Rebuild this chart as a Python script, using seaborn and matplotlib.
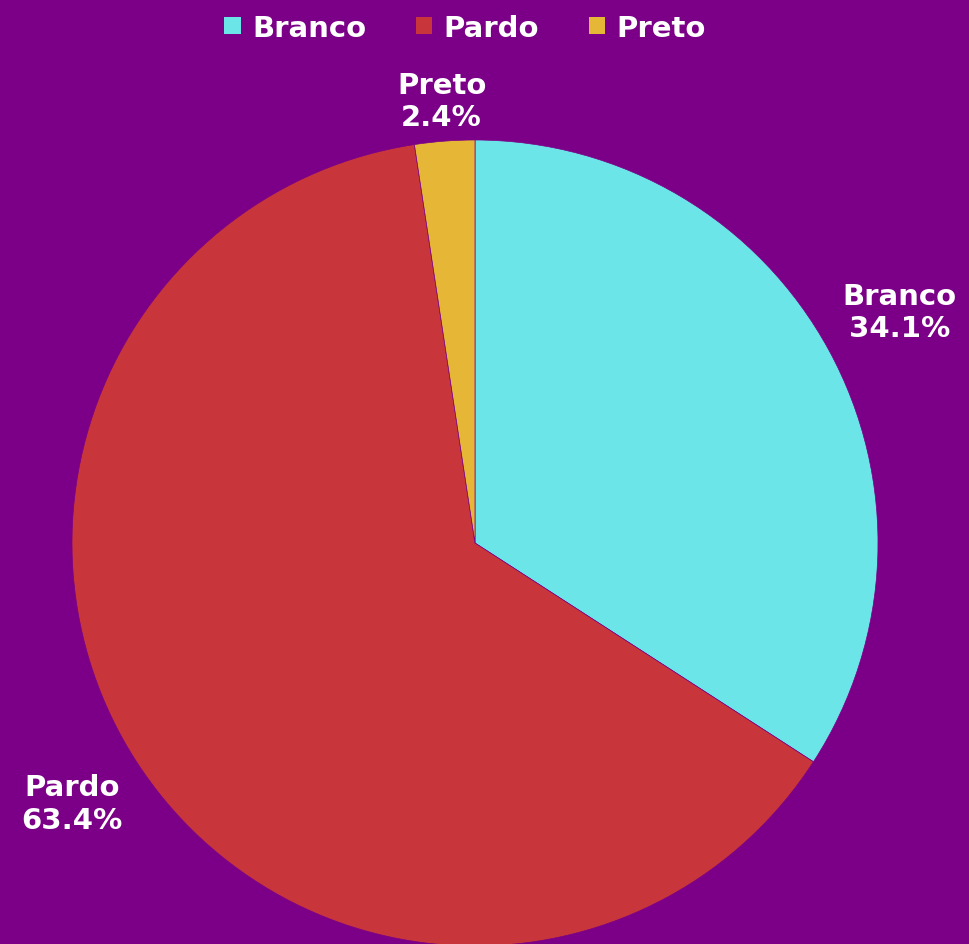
import numpy as np
import matplotlib
matplotlib.use("Agg")
import matplotlib.pyplot as plt
import seaborn as sns
from matplotlib.patches import Patch

categories = ["Branco", "Pardo", "Preto"]
values = [34.1, 63.4, 2.4]
colors = ["#6CE5E8", "#C8363C", "#E6B736"]
label_dist = [1.20, 1.19, 1.10]

bg = "#7B0087"
sns.set_theme(style="white")
plt.rcParams["font.family"] = ["DejaVu Sans"]

W, H = 969, 945
fig = plt.figure(figsize=(W / 100, H / 100), dpi=100, facecolor=bg)
ax = fig.add_axes([0, 0, 1, 1])
ax.set_facecolor(bg)
ax.set_xlim(0, W)
ax.set_ylim(0, H)
ax.set_aspect("equal")
ax.axis("off")

cx, cy, r = 475, H - 544, 403
wedges, _ = ax.pie(values, colors=sns.color_palette(colors), startangle=90,
                   counterclock=False, center=(cx, cy), radius=r,
                   wedgeprops=dict(linewidth=0.5, edgecolor=bg))
ax.set_xlim(0, W)
ax.set_ylim(0, H)

for w, cat, v, d in zip(wedges, categories, values, label_dist):
    ang = np.deg2rad((w.theta1 + w.theta2) / 2)
    x = cx + d * r * np.cos(ang)
    y = cy + d * r * np.sin(ang)
    ax.text(x, y, f"{cat}\n{v:.1f}%", ha="center", va="center",
            color="white", fontsize=21, fontweight="heavy", linespacing=1.2)

handles = [Patch(facecolor=c, edgecolor="none") for c in colors]
leg = fig.legend(handles, categories, loc="upper center", bbox_to_anchor=(0.48, 1.012),
                 ncol=3, frameon=False, fontsize=21, handlelength=0.55, handleheight=0.55,
                 handletextpad=0.4, columnspacing=1.7)
for t in leg.get_texts():
    t.set_color("white")
    t.set_fontweight("heavy")

fig.savefig("out.png", dpi=100, facecolor=bg)
